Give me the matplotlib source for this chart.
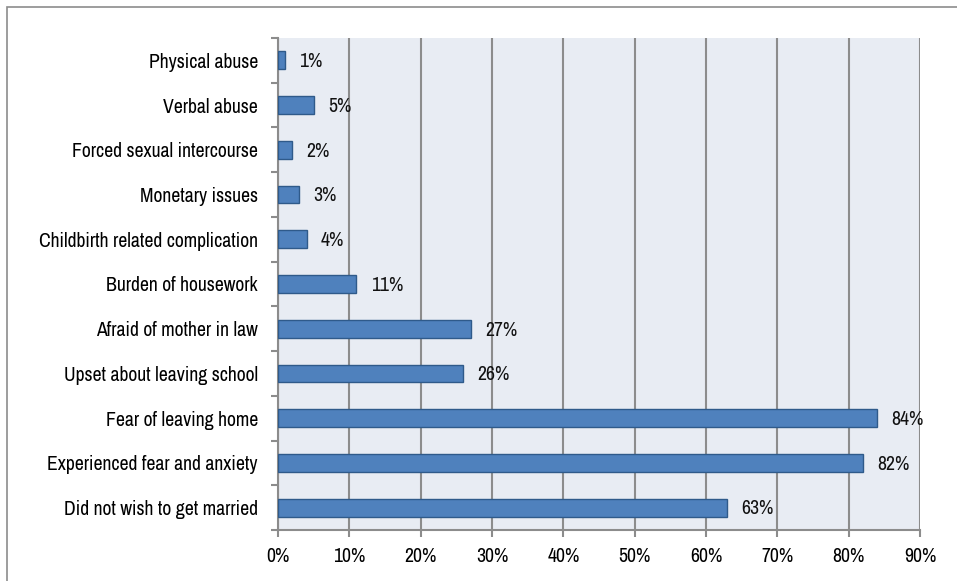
import matplotlib.pyplot as plt
from matplotlib.patches import Rectangle
import numpy as np

plt.rcParams['font.family'] = ['Archivo Narrow', 'Liberation Sans', 'DejaVu Sans']

categories = [
    'Physical abuse',
    'Verbal abuse',
    'Forced sexual intercourse',
    'Monetary issues',
    'Childbirth related complication',
    'Burden of housework',
    'Afraid of mother in law',
    'Upset about leaving school',
    'Fear of leaving home',
    'Experienced fear and anxiety',
    'Did not wish to get married',
]
values = [1, 5, 2, 3, 4, 11, 27, 26, 84, 82, 63]
xticks = [0, 10, 20, 30, 40, 50, 60, 70, 80, 90]

fig = plt.figure(figsize=(9.57, 5.81), dpi=100)
ax = fig.add_axes([278 / 957, 51 / 581, 642 / 957, 492 / 581])

# outer frame around the chart
fig.patches.append(Rectangle((7 / 957, -0.01), 1.0, (581 - 7.5) / 581 + 0.01,
                             transform=fig.transFigure, fill=False,
                             edgecolor='#8c8c8c', linewidth=1.2))

y = np.arange(len(categories))
ax.set_facecolor('#e8ecf3')
ax.barh(y, values, height=0.4, color='#4f81bd', edgecolor='#2f5a8a',
        linewidth=1.0, zorder=3)

fs = 14.2
for yi, v in zip(y, values):
    ax.text(v + 2.0, yi + 0.03, f'{v}%', va='center', ha='left', fontsize=fs,
            color='#111111', zorder=4)

ax.set_xlim(0, 90)
ax.set_ylim(len(categories) - 0.5, -0.5)
ax.set_xticks(xticks)
ax.set_xticklabels([f'{t}%' for t in xticks], fontsize=fs)
ax.set_yticks(y)
ax.set_yticklabels(categories, fontsize=fs)
ax.tick_params(axis='y', length=0, pad=14.5)
ax.set_yticks(np.arange(-0.5, len(categories)), minor=True)
ax.tick_params(axis='y', which='minor', length=5, width=1.5, color='#8c8c8c', direction='out')
ax.tick_params(axis='x', length=5, width=1.5, color='#8c8c8c', pad=7)

ax.grid(axis='x', color='#8c8c8c', linewidth=1.5, zorder=1)
ax.set_axisbelow(True)
for side in ['top', 'right']:
    ax.spines[side].set_visible(False)
for side in ['left', 'bottom']:
    ax.spines[side].set_color('#8c8c8c')
    ax.spines[side].set_linewidth(1.5)

plt.savefig('out.png', dpi=100)
